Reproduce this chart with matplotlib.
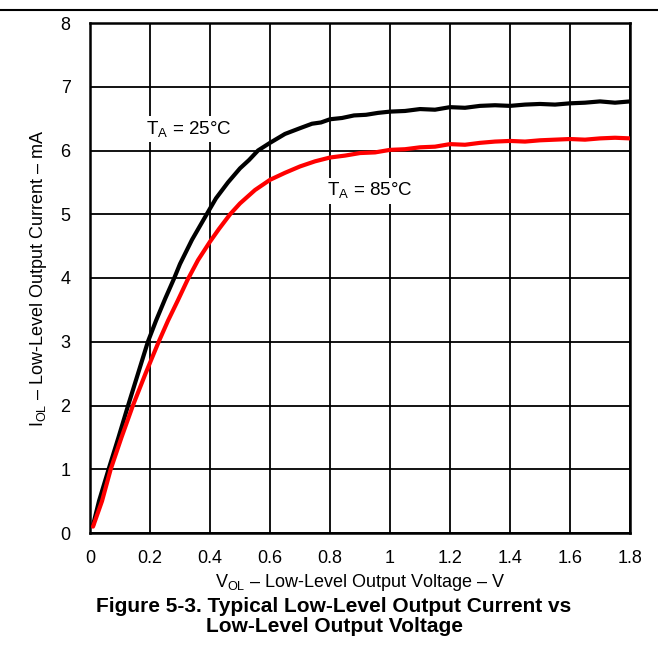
import matplotlib
matplotlib.use('Agg')
import matplotlib.pyplot as plt

plt.rcParams['font.family'] = ['Liberation Sans', 'DejaVu Sans']
plt.rcParams['mathtext.fontset'] = 'custom'
plt.rcParams['mathtext.rm'] = 'Liberation Sans'

# curve, 25 C
v_25 = [0.01, 0.03, 0.062, 0.095, 0.127, 0.16, 0.193, 0.22, 0.251, 0.28, 0.3, 0.34, 0.389, 0.42,
        0.46, 0.5, 0.53, 0.56, 0.6, 0.65, 0.7, 0.74, 0.77, 0.8, 0.84, 0.88, 0.92, 0.96, 1.0, 1.05,
        1.1, 1.15, 1.2, 1.25, 1.3, 1.35, 1.4, 1.45, 1.5, 1.55, 1.6, 1.65, 1.7, 1.75, 1.8]
i_25 = [0.12, 0.5, 1.0, 1.5, 2.0, 2.5, 3.0, 3.33, 3.68, 3.99, 4.22, 4.6, 5.0, 5.25,
        5.5, 5.72, 5.85, 6.0, 6.12, 6.26, 6.35, 6.42, 6.44, 6.49, 6.51, 6.55, 6.56, 6.59, 6.61, 6.62,
        6.65, 6.64, 6.68, 6.67, 6.70, 6.71, 6.70, 6.72, 6.73, 6.72, 6.74, 6.75, 6.77, 6.75, 6.77]

# curve, 85 C
v_85 = [0.01, 0.04, 0.069, 0.105, 0.143, 0.185, 0.229, 0.26, 0.293, 0.325, 0.36, 0.4, 0.43, 0.467,
        0.5, 0.55, 0.6, 0.65, 0.7, 0.75, 0.8, 0.85, 0.9, 0.95, 1.0, 1.05, 1.1, 1.15, 1.2, 1.25,
        1.3, 1.35, 1.4, 1.45, 1.5, 1.55, 1.6, 1.65, 1.7, 1.75, 1.8]
i_85 = [0.1, 0.5, 1.0, 1.5, 2.0, 2.5, 3.0, 3.33, 3.65, 3.97, 4.28, 4.57, 4.77, 5.0,
        5.17, 5.38, 5.54, 5.65, 5.75, 5.83, 5.89, 5.92, 5.96, 5.97, 6.01, 6.02, 6.05, 6.06, 6.10, 6.09,
        6.12, 6.14, 6.15, 6.14, 6.16, 6.17, 6.18, 6.17, 6.19, 6.20, 6.19]

x_ticks = [0, 0.2, 0.4, 0.6, 0.8, 1, 1.2, 1.4, 1.6, 1.8]
x_tick_labels = ['0', '0.2', '0.4', '0.6', '0.8', '1', '1.2', '1.4', '1.6', '1.8']
y_ticks = [0, 1, 2, 3, 4, 5, 6, 7, 8]

fig = plt.figure(figsize=(6.58, 6.52), dpi=100)
ax = fig.add_axes([90/658, 1-533/652, 540/658, 510/652])

ax.plot(v_25, i_25, color='black', lw=3, solid_capstyle='round', solid_joinstyle='round', zorder=3)
ax.plot(v_85, i_85, color='#ff0000', lw=3, solid_capstyle='round', solid_joinstyle='round', zorder=3)

ax.set_xlim(0, 1.8)
ax.set_ylim(0, 8)
ax.set_xticks(x_ticks)
ax.set_xticklabels(x_tick_labels)
ax.set_yticks(y_ticks)
ax.tick_params(length=0, labelsize=13, pad=12)
ax.tick_params(axis='y', pad=14)
ax.grid(True, color='black', lw=1.3)
ax.set_axisbelow(True)
for s in ax.spines.values():
    s.set_linewidth(1.8)

ax.text(0.187, 6.33, r'T$_\mathrm{A}$ = 25°C', fontsize=13.5, va='center', ha='left',
        bbox=dict(facecolor='white', edgecolor='none', pad=2), zorder=2)
ax.text(0.79, 5.37, r'T$_\mathrm{A}$ = 85°C', fontsize=13.5, va='center', ha='left',
        bbox=dict(facecolor='white', edgecolor='none', pad=2), zorder=2)

ax.set_xlabel(r'V$_\mathrm{OL}$ – Low-Level Output Voltage – V', fontsize=13, labelpad=4)
ax.set_ylabel(r'I$_\mathrm{OL}$ – Low-Level Output Current – mA', fontsize=13, labelpad=8)

fig.text(334/658, 1-607/652, 'Figure 5-3. Typical Low-Level Output Current vs', fontsize=15,
         fontweight='bold', ha='center', va='center')
fig.text(334/658, 1-626/652, 'Low-Level Output Voltage', fontsize=15,
         fontweight='bold', ha='center', va='center')

fig.add_artist(plt.Line2D([0, 1], [1-10/652, 1-10/652], color='black', lw=1.5))

fig.savefig('out.png', dpi=100)
